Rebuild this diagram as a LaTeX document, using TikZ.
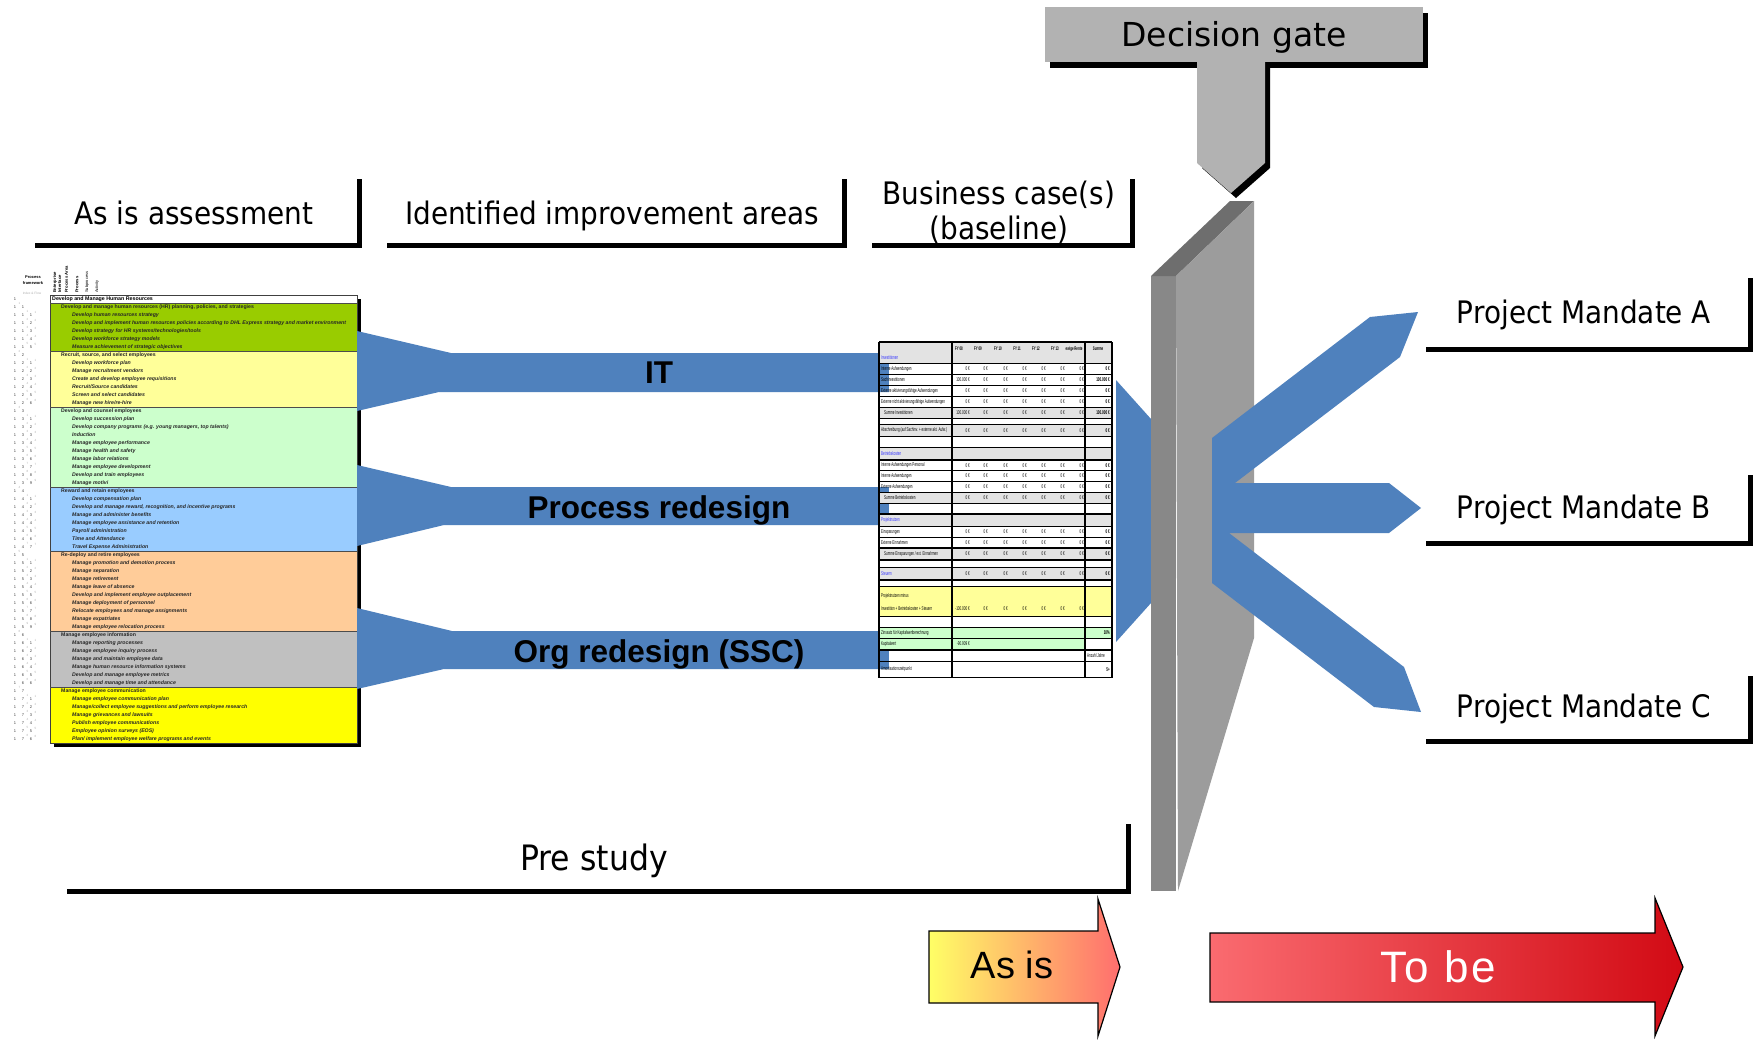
\documentclass[tikz,border=0pt]{standalone}
\usepackage{fontspec}
\setmainfont{Liberation Sans}
\newfontfamily\lblfont{DejaVu Sans}[FakeStretch=0.9]
\newfontfamily\gatefont{DejaVu Sans}
\newfontfamily\bcfont{Liberation Sans}[FakeStretch=0.55]
\newfontfamily\spacedfont{Liberation Sans}[LetterSpace=6]

\definecolor{bandblue}{HTML}{4F81BD}
\definecolor{gatebox}{HTML}{B2B2B2}
\definecolor{slabside}{HTML}{888888}
\definecolor{slabtop}{HTML}{6E6E6E}
\definecolor{slabface}{HTML}{9C9C9C}
\definecolor{hrgreen}{HTML}{99CC00}
\definecolor{hrpale}{HTML}{FFFF99}
\definecolor{hrmint}{HTML}{CCFFCC}
\definecolor{hrsky}{HTML}{99CCFF}
\definecolor{hrpeach}{HTML}{FFCC99}
\definecolor{hrgray}{HTML}{C0C0C0}
\definecolor{hryellow}{HTML}{FFFF00}
\definecolor{bcgray}{HTML}{E3E3E3}
\definecolor{bclink}{HTML}{3333FF}
\definecolor{asisA}{HTML}{FFFF66}
\definecolor{asisB}{HTML}{F9BE78}
\definecolor{asisC}{HTML}{FF6E6E}
\definecolor{tobeA}{HTML}{FA6B70}
\definecolor{tobeB}{HTML}{EA5258}
\definecolor{tobeC}{HTML}{D20A14}

\tikzset{
  lbl/.style={font=\lblfont\fontsize{31}{37}\selectfont, inner sep=0pt, anchor=base},
  bracket/.style={line width=5pt, draw=black, miter limit=10},
  bandlbl/.style={font=\bfseries\fontsize{31.5}{36}\selectfont, inner sep=0pt, anchor=base},
  hrhead/.style={font=\bfseries\fontsize{5.3}{6}\selectfont, inner sep=0pt, anchor=west},
  hrsectxt/.style={font=\bfseries\fontsize{5.2}{6}\selectfont, inner sep=0pt, anchor=west, text=black!85},
  hritemtxt/.style={font=\bfseries\itshape\fontsize{5.2}{6}\selectfont, inner sep=0pt, anchor=west, text=black!85},
  hrnum/.style={font=\fontsize{4}{5}\selectfont, inner sep=0pt, text=black!75},
  hrghost/.style={font=\fontsize{3}{4}\selectfont, inner sep=0pt, text=black!30},
  hrcol/.style={font=\bfseries\fontsize{4.2}{5}\selectfont, inner sep=0pt, rotate=90, anchor=west},
  hrcap/.style={font=\bfseries\fontsize{4}{5}\selectfont, inner sep=0pt},
  bctxt/.style={font=\bcfont\fontsize{5.5}{6.5}\selectfont, inner sep=0pt, anchor=west},
  bcval/.style={font=\bcfont\fontsize{5.5}{6.5}\selectfont, inner sep=0pt, anchor=east},
  bcsum/.style={font=\bcfont\bfseries\fontsize{5.5}{6.5}\selectfont, inner sep=0pt, anchor=east},
  bchead/.style={font=\bcfont\bfseries\fontsize{5.2}{6}\selectfont, inner sep=0pt},
  bcline/.style={line width=1.4pt, draw=black},
  arrowlbl/.style={inner sep=0pt, anchor=base},
}

% process table: section row (#1 row index, #2 section number, #3 text)
\newcommand\hrsecrow[3]{%
  \node[hrsectxt] (hrs#1) at (61,{307+8*#1}) {#3};
  \node[hrnum] (hrsa#1) at (15,{307+8*#1}) {1};
  \node[hrnum] (hrsb#1) at (23,{307+8*#1}) {#2};
  \node[hrghost] (hrsg#1) at (19.5,{303+8*#1}) {#2};
}
% process table: activity row (#1 row index, #2 section, #3 item, #4 text)
\newcommand\hritemrow[4]{%
  \node[hritemtxt] (hri#1) at (72,{307+8*#1}) {#4};
  \node[hrnum] (hria#1) at (15,{307+8*#1}) {1};
  \node[hrnum] (hrib#1) at (23,{307+8*#1}) {#2};
  \node[hrnum] (hric#1) at (31,{307+8*#1}) {#3};
  \node[hrghost] (hrig#1) at (27.5,{303+8*#1}) {#3};
  \node[hrghost] (hrih#1) at (35.5,{304+8*#1}) {#3};
}
% business case: value cells of one row (#1 y, #2 name, #3 first value, #4 sum)
\newcommand\bcvals[4]{%
  \node[bcval] (#2a) at (970,#1) {#3};
  \foreach \vx [count=\vi] in {988,1008,1027,1046,1065,1084}
    {\node[bcval] (#2v\vi) at (\vx,#1) {0\,€};}
  \node[bcsum] (#2s) at (1110,#1) {#4};
}

\begin{document}
\begin{tikzpicture}[x=1pt,y=-1pt]
\useasboundingbox (0,0) rectangle (1758,1039);
\fill[white] (0,0) rectangle (1758,1039);

% ---------------- process framework table ----------------
\fill[black] (54,299) rectangle (361,747);
\fill[white] (50,295) rectangle (357,303);
\fill[hrgreen] (50,303) rectangle (357,351);
\fill[hrpale] (50,351) rectangle (357,407);
\fill[hrmint] (50,407) rectangle (357,487);
\fill[hrsky] (50,487) rectangle (357,551);
\fill[hrpeach] (50,551) rectangle (357,631);
\fill[hrgray] (50,631) rectangle (357,687);
\fill[hryellow] (50,687) rectangle (357,743);
\draw[black!75, line width=0.8pt] (50,295) rectangle (357,743);
\foreach \yy in {303,351,407,487,551,631,687}
  \draw[black!70, line width=0.8pt] (50,\yy) -- (357,\yy);

\node[hrcap] (fw1) at (33,277) {Process};
\node[hrcap] (fw2) at (33,283) {framework};
\node[hrghost, font=\fontsize{3.2}{4}\selectfont] (fw3) at (32,293) {Index \& Flow};
\node[hrcol] (colA) at (55,293) {Enterprise};
\node[hrcol] (colB) at (59.5,293) {Interface};
\node[hrcol] (colC) at (66.5,293) {Process Area};
\node[hrcol] (colD) at (77,293) {Process};
\node[hrcol, font=\fontsize{4}{5}\selectfont] (colE) at (87,293) {Subprocess};
\node[hrcol, font=\fontsize{4}{5}\selectfont] (colF) at (97,293) {Activity};

\node[hrhead] (hrtitle) at (52,299.3) {Develop and Manage Human Resources};
\node[hrnum] (hrtitlen) at (15,299.3) {1};

\hrsecrow{0}{1}{Develop and manage human resources (HR) planning, policies, and strategies}
\hritemrow{1}{1}{1}{Develop human resources strategy}
\hritemrow{2}{1}{2}{Develop and implement human resources policies according to DHL Express strategy and market environment}
\hritemrow{3}{1}{3}{Develop strategy for HR systems/technologies/tools}
\hritemrow{4}{1}{4}{Develop workforce strategy models}
\hritemrow{5}{1}{5}{Measure achievement of strategic objectives}
\hrsecrow{6}{2}{Recruit, source, and select employees}
\hritemrow{7}{2}{1}{Develop workforce plan}
\hritemrow{8}{2}{2}{Manage recruitment vendors}
\hritemrow{9}{2}{3}{Create and develop employee requisitions}
\hritemrow{10}{2}{4}{Recruit/Source candidates}
\hritemrow{11}{2}{5}{Screen and select candidates}
\hritemrow{12}{2}{6}{Manage new hire/re-hire}
\hrsecrow{13}{3}{Develop and counsel employees}
\hritemrow{14}{3}{1}{Develop succession plan}
\hritemrow{15}{3}{2}{Develop company programs (e.g. young managers, top talents)}
\hritemrow{16}{3}{3}{Induction}
\hritemrow{17}{3}{4}{Manage employee performance}
\hritemrow{18}{3}{5}{Manage health and safety}
\hritemrow{19}{3}{6}{Manage labor relations}
\hritemrow{20}{3}{7}{Manage employee development}
\hritemrow{21}{3}{8}{Develop and train employees}
\hritemrow{22}{3}{9}{Manage motivi}
\hrsecrow{23}{4}{Reward and retain employees}
\hritemrow{24}{4}{1}{Develop compensation plan}
\hritemrow{25}{4}{2}{Develop and manage reward, recognition, and incentive programs}
\hritemrow{26}{4}{3}{Manage and administer benefits}
\hritemrow{27}{4}{4}{Manage employee assistance and retention}
\hritemrow{28}{4}{5}{Payroll administration}
\hritemrow{29}{4}{6}{Time and Attendance}
\hritemrow{30}{4}{7}{Travel Expense Administration}
\hrsecrow{31}{5}{Re-deploy and retire employees}
\hritemrow{32}{5}{1}{Manage promotion and demotion process}
\hritemrow{33}{5}{2}{Manage separation}
\hritemrow{34}{5}{3}{Manage retirement}
\hritemrow{35}{5}{4}{Manage leave of absence}
\hritemrow{36}{5}{5}{Develop and implement employee outplacement}
\hritemrow{37}{5}{6}{Manage deployment of personnel}
\hritemrow{38}{5}{7}{Relocate employees and manage assignments}
\hritemrow{39}{5}{8}{Manage expatriates}
\hritemrow{40}{5}{9}{Manage employee relocation process}
\hrsecrow{41}{6}{Manage employee information}
\hritemrow{42}{6}{1}{Manage reporting processes}
\hritemrow{43}{6}{2}{Manage employee inquiry process}
\hritemrow{44}{6}{3}{Manage and maintain employee data}
\hritemrow{45}{6}{4}{Manage human resource information systems}
\hritemrow{46}{6}{5}{Develop and manage employee metrics}
\hritemrow{47}{6}{6}{Develop and manage time and attendance}
\hrsecrow{48}{7}{Manage employee communication}
\hritemrow{49}{7}{1}{Manage employee communication plan}
\hritemrow{50}{7}{2}{Manage/collect employee suggestions and perform employee research}
\hritemrow{51}{7}{3}{Manage grievances and lawsuits}
\hritemrow{52}{7}{4}{Publish employee communications}
\hritemrow{53}{7}{5}{Employee opinion surveys (EOS)}
\hritemrow{54}{7}{6}{Plan/ implement employee welfare programs and events}

% ---------------- improvement areas (blue bands) ----------------
\fill[bandblue] (357,331) -- (451,353) -- (889,353) -- (889,392) -- (439,392) -- (357,411) -- cycle;
\fill[bandblue] (357,465) -- (451,487) -- (889,487) -- (889,525) -- (444,525) -- (357,546) -- cycle;
\fill[bandblue] (357,608) -- (452,631) -- (889,631) -- (889,669) -- (444,669) -- (357,689) -- cycle;
\node[bandlbl] (bandIT) at (659,383) {IT};
\node[bandlbl] (bandPR) at (659,518) {Process redesign};
\node[bandlbl] (bandOR) at (659,662) {Org redesign (SSC)};

% ---------------- business case sheet ----------------
\fill[white] (889,342) rectangle (1112,678);
\fill[bcgray] (879,342) rectangle (1112,363);
\foreach \ta/\tb in {408/418, 425/436, 448/459, 493/503, 515/526, 549/559, 568/579}
  \fill[bcgray] (879,\ta) rectangle (1112,\tb);
\fill[hrpale] (879,587) rectangle (1112,616);
\fill[hrmint] (879,628) rectangle (1112,638);
\fill[hrmint] (879,639) rectangle (1085,649);
\foreach \yy in {342,363.5,374.5,385.5,396.5,407.5,418.5,424.5,436.5,447.5,460,470.5,481.5,492.5,503.5,514,526.5,537.5,548,560,567.5,580,586.5,616.5,627.5,638.5,650,661.5,677.5}
  \draw[bcline] (879,\yy) -- (1112,\yy);
\foreach \xx in {879,952,1085,1112}
  \draw[bcline] (\xx,342) -- (\xx,677.5);

\foreach \hx/\hlab [count=\hi] in {959/FY 08,978/FY 09,998/FY 10,1017/FY 11,1036/FY 12,1055/FY 13,1074/ewige Rente,1098/Summe}
  \node[bchead] (bch\hi) at (\hx,349) {\hlab};
\node[bctxt, text=bclink] (bcInv) at (881,358) {Investitionen};

\node[bctxt] (bc1) at (881,369) {Interne Aufwendungen};
\bcvals{369}{bcr1}{0\,€}{0\,€}
\node[bctxt] (bc2) at (881,380) {Sachinvestitionen};
\bcvals{380}{bcr2}{100.000\,€}{100.000\,€}
\node[bctxt] (bc3) at (881,391) {Externe aktivierungsfähige Aufwendungen};
\bcvals{391}{bcr3}{0\,€}{0\,€}
\node[bctxt] (bc4) at (881,402) {Externe nicht aktivierungsfähige Aufwendungen};
\bcvals{402}{bcr4}{0\,€}{0\,€}
\node[bctxt] (bc5) at (884,413) {Summe Investitionen};
\bcvals{413}{bcr5}{100.000\,€}{100.000\,€}
\node[bctxt] (bc7) at (881,430.5) {Abschreibung (auf Sachinv. + externe akt. Aufw.)};
\bcvals{430.5}{bcr7}{0\,€}{0\,€}
\node[bctxt, text=bclink] (bc9) at (881,453.5) {Betriebskosten};
\node[bctxt] (bc10) at (881,465.5) {Interne Aufwendungen Personal};
\bcvals{465.5}{bcr10}{0\,€}{0\,€}
\node[bctxt] (bc11) at (881,476) {Interne Aufwendungen};
\bcvals{476}{bcr11}{0\,€}{0\,€}
\node[bctxt] (bc12) at (881,487) {Externe Aufwendungen};
\bcvals{487}{bcr12}{0\,€}{0\,€}
\node[bctxt] (bc13) at (884,498) {Summe Betriebskosten};
\bcvals{498}{bcr13}{0\,€}{0\,€}
\node[bctxt, text=bclink] (bc15) at (881,520.5) {Projektnutzen};
\node[bctxt] (bc16) at (881,532) {Einsparungen};
\bcvals{532}{bcr16}{0\,€}{0\,€}
\node[bctxt] (bc17) at (881,543) {Externe Einnahmen};
\bcvals{543}{bcr17}{0\,€}{0\,€}
\node[bctxt] (bc18) at (884,554) {Summe Einsparungen / ext. Einnahmen};
\bcvals{554}{bcr18}{0\,€}{0\,€}
\node[bctxt, text=bclink] (bc20) at (881,574) {Steuern};
\bcvals{574}{bcr20}{0\,€}{0\,€}
\node[bctxt] (bc22a) at (881,596) {Projektnutzen minus};
\node[bctxt] (bc22b) at (881,609) {Investition + Betriebskosten + Steuern};
\bcvals{609}{bcr22}{-100.000\,€}{}
\node[bctxt] (bc24) at (881,633) {Zinssatz für Kapitalwertberechnung};
\node[bcsum] (bc24s) at (1110,633) {10\%};
\node[bctxt] (bc25) at (881,644) {Kapitalwert};
\node[bcval] (bc25a) at (970,644) {-90.909\,€};
\node[bctxt] (bc26s) at (1087,656) {Anzahl Jahre};
\node[bctxt] (bc27) at (881,669.5) {Amortisationszeitpunkt};
\node[bcsum] (bc27s) at (1110,669.5) {5+};

% ---------------- decision gate ----------------
\fill[bandblue] (1116,380) -- (1151,419) -- (1151,603) -- (1116,642) -- cycle;
\fill[slabside] (1151,276) rectangle (1176,891);
\fill[slabtop] (1151,276) -- (1230,201) -- (1254,201) -- (1176,276) -- cycle;
\fill[slabface] (1176,276) -- (1254,201) -- (1254,638) -- (1178,891) -- cycle;
\fill[bandblue] (1212,438) -- (1370,317) -- (1418,312) -- (1400,357) -- (1235,483)
  -- (1389,483) -- (1421,508) -- (1389,533) -- (1229,533)
  -- (1404,667) -- (1421,712) -- (1374,707) -- (1212,583) -- cycle;

\fill[black] (1050,13) rectangle (1428,68);
\fill[black] (1202,68) -- (1270,68) -- (1270,168) -- (1236,198) -- (1202,168) -- cycle;
\fill[gatebox] (1045,7) rectangle (1423,62);
\fill[gatebox] (1197,60) -- (1265,60) -- (1265,163) -- (1231,193) -- (1197,163) -- cycle;
\node[font=\gatefont\fontsize{33}{38}\selectfont, inner sep=0pt, anchor=base] (gate) at (1234,46) {Decision gate};

% ---------------- phase labels ----------------
\node[lbl] (asis) at (194,224) {As is assessment};
\draw[bracket] (35,245) -- (359,245) -- (359,179);
\node[lbl] (improve) at (612,224) {Identified improvement areas};
\draw[bracket] (387,245) -- (844,245) -- (844,179);
\node[lbl] (bcase1) at (999,204) {Business case(s)};
\node[lbl] (bcase2) at (999,239) {(baseline)};
\draw[bracket] (872,245) -- (1132,245) -- (1132,179);

\node[lbl] (mandA) at (1584,323) {Project Mandate A};
\draw[bracket] (1426,349) -- (1750,349) -- (1750,278);
\node[lbl] (mandB) at (1584,518) {Project Mandate B};
\draw[bracket] (1426,543) -- (1750,543) -- (1750,475);
\node[lbl] (mandC) at (1584,717) {Project Mandate C};
\draw[bracket] (1426,741) -- (1750,741) -- (1750,676);

\node[lbl, font=\lblfont\fontsize{35}{40}\selectfont] (prestudy) at (594,870) {Pre study};
\draw[bracket] (67,891) -- (1128,891) -- (1128,824);

% ---------------- as is / to be arrows ----------------
\shadedraw[draw=black, line width=1.2pt, left color=asisA, middle color=asisB, right color=asisC]
  (929,931) -- (1098,931) -- (1098,899) -- (1120,967) -- (1098,1036) -- (1098,1003) -- (929,1003) -- cycle;
\node[arrowlbl, font=\fontsize{38}{42}\selectfont] (asisarrow) at (1012,978) {As is};
\shadedraw[draw=black, line width=1.2pt, left color=tobeA, middle color=tobeB, right color=tobeC]
  (1210,933) -- (1655,933) -- (1655,898) -- (1683,967) -- (1655,1036) -- (1655,1002) -- (1210,1002) -- cycle;
\node[arrowlbl, text=white, font=\spacedfont\fontsize{44}{48}\selectfont] (tobearrow) at (1438,982) {To be};
\end{tikzpicture}
\end{document}
